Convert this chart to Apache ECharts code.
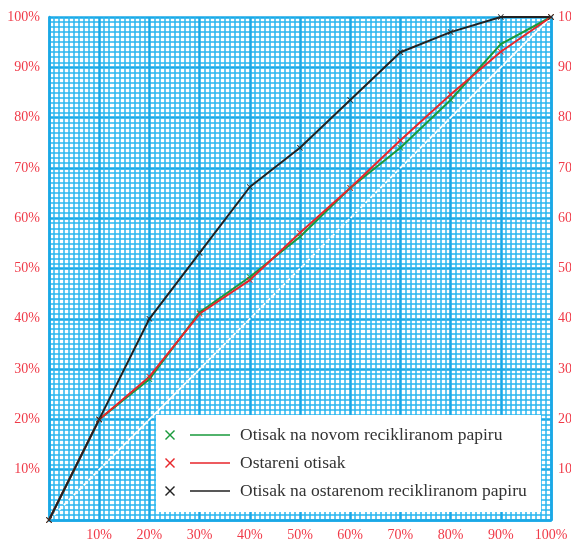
<!DOCTYPE html>
<html><head><meta charset="utf-8">
<script src="https://cdn.jsdelivr.net/npm/echarts@6/dist/echarts.min.js"></script>
<style>html,body{margin:0;padding:0;background:#fff}#c{width:571px;height:545px}</style>
</head><body><div id="c"></div>
<script>
const xValues = [0, 10, 20, 30, 40, 50, 60, 70, 80, 90, 100];
const greenValues = [0, 20, 28, 41.3, 48.3, 56.3, 66, 74, 83.5, 94.6, 100];
const redValues = [0, 20, 28.5, 41, 47.7, 57.1, 66, 75.5, 84.6, 93.1, 100];
const blackValues = [0, 20, 40, 53.1, 66.2, 74, 83.5, 93, 97, 100, 100];
const diagonalValues = [0, 100];
const seriesNames = ['Otisak na novom recikliranom papiru', 'Ostareni otisak', 'Otisak na ostarenom recikliranom papiru'];
const seriesColors = ['#1a9a3c', '#e8262b', '#222222'];

const X_SYM = 'path://M0,1L1,0L5,4L9,0L10,1L6,5L10,9L9,10L5,6L1,10L0,9L4,5Z';
const LEG_ICON = 'path://M0,1L1,0L5,4L9,0L10,1L6,5L10,9L9,10L5,6L1,10L0,9L4,5Z M25,4.3L65,4.3L65,5.7L25,5.7Z';

const chart = echarts.init(document.getElementById('c'));
const lab = {color: '#f03a48', fontFamily: 'Liberation Serif', fontSize: 14};
const fmt = v => v === 0 ? '' : v + '%';
const pairs = vals => xValues.map((x, i) => [x, vals[i]]);
const mk = (name, vals, color) => ({
  name, type: 'line', data: pairs(vals), symbol: X_SYM, symbolSize: 6,
  itemStyle: {color}, lineStyle: {color, width: 2}, z: 5, animation: false
});
chart.setOption({
  animation: false,
  grid: {left: 49, right: 20, top: 17, bottom: 25, containLabel: false, outerBoundsMode: 'none'},
  xAxis: {
    type: 'value', min: 0, max: 100, interval: 10,
    axisLine: {lineStyle: {color: '#1aa8e6', width: 2.5}},
    axisTick: {show: false},
    axisLabel: Object.assign({formatter: fmt, margin: 8}, lab),
    splitLine: {lineStyle: {color: '#1aa8e6', width: 2.5}},
    minorTick: {show: false, splitNumber: 10},
    minorSplitLine: {show: true, lineStyle: {color: '#2ab6ef', width: 1.5}}
  },
  yAxis: [{
    type: 'value', min: 0, max: 100, interval: 10,
    axisLine: {show: true, lineStyle: {color: '#1aa8e6', width: 2.5}},
    axisTick: {show: false},
    axisLabel: Object.assign({formatter: fmt, margin: 9}, lab),
    splitLine: {lineStyle: {color: '#1aa8e6', width: 2.5}},
    minorTick: {show: false, splitNumber: 10},
    minorSplitLine: {show: true, lineStyle: {color: '#2ab6ef', width: 1.5}}
  }, {
    type: 'value', min: 0, max: 100, interval: 10, position: 'right',
    axisLine: {show: true, lineStyle: {color: '#1aa8e6', width: 2.5}},
    axisTick: {show: false},
    axisLabel: Object.assign({formatter: fmt, margin: 7}, lab),
    splitLine: {show: false}
  }],
  legend: {
    orient: 'vertical', left: 165, top: 426, padding: 0, itemGap: 10,
    itemWidth: 65, itemHeight: 10, z: 20,
    data: seriesNames.map(n => ({name: n, icon: LEG_ICON})),
    textStyle: {color: '#333', fontFamily: 'Liberation Serif', fontSize: 17.5, lineHeight: 18, padding: [0, 0, 0, 5]}
  },
  graphic: [{
    type: 'rect', left: 156, top: 415, z: 10,
    shape: {width: 385, height: 97},
    style: {fill: '#ffffff'}
  }],
  series: [
    {
      type: 'line', data: diagonalValues.map(v => [v, v]), symbol: 'none', silent: true,
      lineStyle: {color: '#ffffff', width: 1.8, type: [5, 2]}, z: 3
    },
    mk(seriesNames[0], greenValues, seriesColors[0]),
    mk(seriesNames[1], redValues, seriesColors[1]),
    mk(seriesNames[2], blackValues, seriesColors[2])
  ]
});
</script></body></html>
